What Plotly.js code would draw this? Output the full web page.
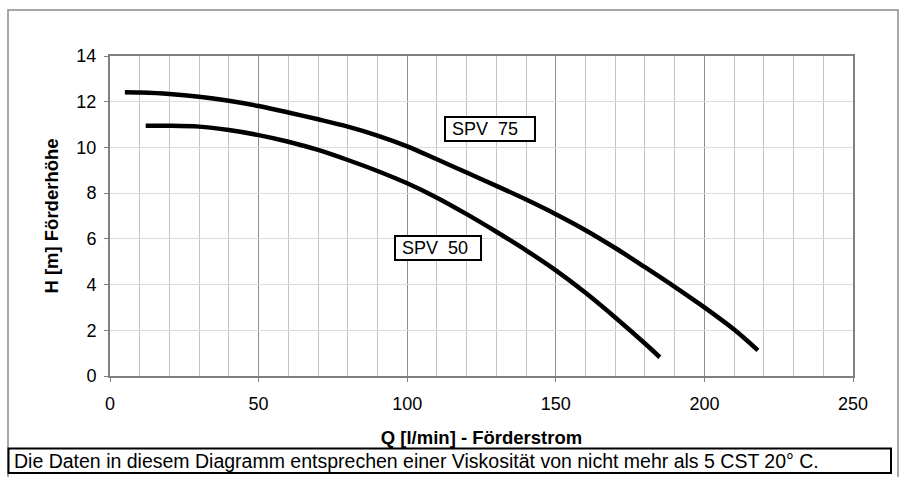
<!DOCTYPE html>
<html>
<head>
<meta charset="utf-8">
<script src="https://cdn.plot.ly/plotly-3.0.1.min.js"></script>
<style>html,body{margin:0;padding:0;background:#fff;}#chart{width:900px;height:477px;}</style>
</head>
<body>
<div id="chart"></div>
<script>
// Flow rate Q [l/min] and head H [m]
const q75 = [5, 10, 20, 30, 40, 50, 60, 70, 80, 90, 100, 110, 120, 130, 140, 150, 160, 170, 180, 190, 200, 210, 218];
const h75 = [12.41, 12.4, 12.34, 12.22, 12.04, 11.81, 11.53, 11.23, 10.91, 10.52, 10.05, 9.48, 8.9, 8.32, 7.72, 7.08, 6.38, 5.6, 4.76, 3.9, 3.0, 2.03, 1.12];
const q50 = [12, 20, 30, 40, 50, 60, 70, 80, 90, 100, 110, 120, 130, 140, 150, 160, 170, 180, 185];
const h50 = [10.95, 10.95, 10.91, 10.76, 10.54, 10.25, 9.89, 9.45, 8.97, 8.43, 7.8, 7.08, 6.31, 5.5, 4.62, 3.64, 2.56, 1.42, 0.82];
const seriesNames = ["SPV&nbsp;&nbsp;75", "SPV&nbsp;&nbsp;50"];
const xTicks = [0, 50, 100, 150, 200, 250];
const yTicks = [0, 2, 4, 6, 8, 10, 12, 14];
const xTitle = "Q [l/min] - Förderstrom";
const yTitle = "H [m] Förderhöhe";
const footnote = "Die Daten in diesem Diagramm entsprechen einer Viskosität von nicht mehr als 5 CST 20° C.";

const font = "Arial, 'Liberation Sans', sans-serif";
const lineStyle = {color: "#000", width: 4.5, shape: "spline", smoothing: 0.9};

const traces = [
  {x: q75, y: h75, mode: "lines", name: "SPV 75", line: lineStyle},
  {x: q50, y: h50, mode: "lines", name: "SPV 50", line: lineStyle}
];

// pixel helpers for paper coords (plot area 110..853 x, 56..376 y)
const L = 110, R = 853, T = 56, B = 376;
const px = v => (v - L) / (R - L);
const py = v => (B - v) / (B - T);

const layout = {
  width: 900, height: 477,
  margin: {l: L, r: 900 - R, t: T, b: 477 - B},
  paper_bgcolor: "#fff", plot_bgcolor: "#fff",
  showlegend: false,
  font: {family: font, color: "#000", size: 18},
  xaxis: {
    range: [0, 250], tickvals: xTicks, ticktext: xTicks.map(String),
    showgrid: true, gridcolor: "#8e8e8e", gridwidth: 1,
    minor: {dtick: 10, showgrid: true, gridcolor: "#c4c4c4", gridwidth: 1, ticks: ""},
    showline: true, linecolor: "#808080", linewidth: 2, mirror: true,
    ticks: "outside", ticklen: 4, tickcolor: "#808080",
    zeroline: false,
    tickfont: {size: 18}, ticklabelstandoff: 6,
    title: {text: xTitle, font: {size: 18.5, weight: "bold"}, standoff: 18}
  },
  yaxis: {
    range: [0, 14], tickvals: yTicks, ticktext: yTicks.map(String),
    showgrid: true, gridcolor: "#dcdcdc", gridwidth: 1,
    showline: true, linecolor: "#808080", linewidth: 2, mirror: true,
    ticks: "outside", ticklen: 4, tickcolor: "#808080",
    zeroline: false,
    tickfont: {size: 18}, ticklabelstandoff: 4,
    title: {text: yTitle, font: {size: 18.5, weight: "bold"}, standoff: 13}
  },
  annotations: [
    {x: 128, y: 10.8, xref: "x", yref: "y", text: "&nbsp;" + seriesNames[0], showarrow: false,
     font: {size: 18}, bordercolor: "#000", borderwidth: 2, bgcolor: "#fff",
     width: 86, align: "left", borderpad: 1},
    {x: 110.4, y: 5.6, xref: "x", yref: "y", text: "&nbsp;" + seriesNames[1], showarrow: false,
     font: {size: 18}, bordercolor: "#000", borderwidth: 2, bgcolor: "#fff",
     width: 82, align: "left", borderpad: 1},
    {x: px(12), y: py(461), xref: "paper", yref: "paper", xanchor: "left", yanchor: "middle",
     text: footnote, showarrow: false, font: {size: 19.5}, align: "left"}
  ],
  shapes: [
    {type: "rect", xref: "paper", yref: "paper", x0: px(8), x1: px(898), y0: py(485), y1: py(10),
     line: {color: "#8a8a8a", width: 1.5}, fillcolor: "rgba(0,0,0,0)", layer: "below"},
    {type: "rect", xref: "paper", yref: "paper", x0: px(8.5), x1: px(891), y0: py(473), y1: py(448.5),
     line: {color: "#000", width: 2}, fillcolor: "rgba(0,0,0,0)"}
  ]
};

Plotly.newPlot("chart", traces, layout, {staticPlot: true, displayModeBar: false});
</script>
</body>
</html>
